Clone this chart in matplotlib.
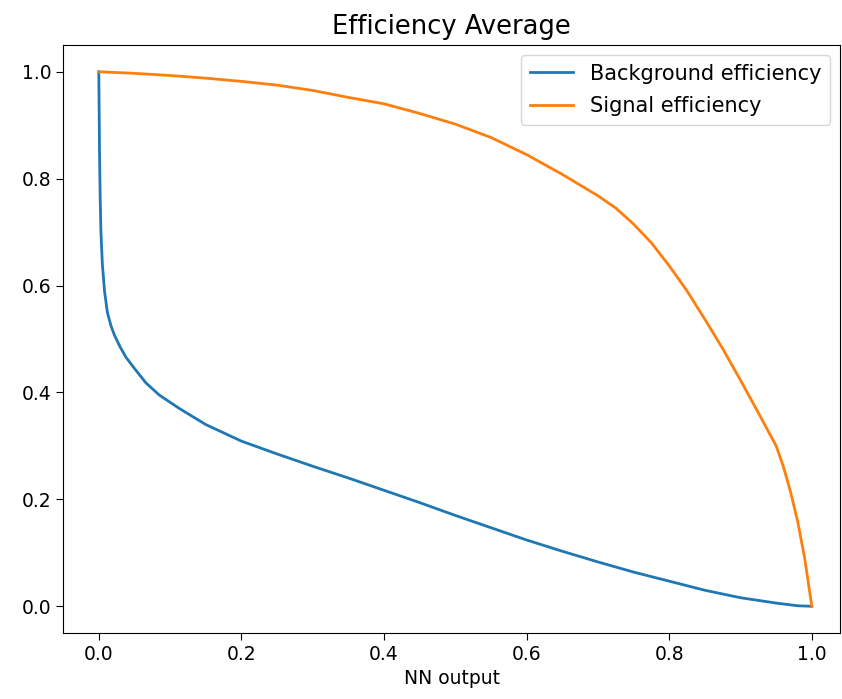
import matplotlib
matplotlib.use("Agg")
import matplotlib.pyplot as plt

# NN output cut values and resulting efficiencies
bkg_cut = [0.0, 0.001, 0.002, 0.003, 0.005, 0.008, 0.012, 0.017, 0.022, 0.03, 0.038,
           0.05, 0.066, 0.085, 0.113, 0.15, 0.2, 0.25, 0.3, 0.35, 0.4, 0.45, 0.5, 0.55,
           0.6, 0.65, 0.7, 0.75, 0.8, 0.85, 0.9, 0.95, 0.98, 1.0]
bkg_eff = [1.0, 0.85, 0.76, 0.70, 0.64, 0.59, 0.55, 0.525, 0.507, 0.485, 0.466,
           0.445, 0.418, 0.395, 0.37, 0.34, 0.309, 0.285, 0.262, 0.24, 0.217, 0.194, 0.17, 0.147,
           0.124, 0.103, 0.083, 0.064, 0.047, 0.03, 0.016, 0.006, 0.001, 0.0]

sig_cut = [0.0, 0.05, 0.1, 0.15, 0.2, 0.25, 0.3, 0.35, 0.4, 0.45, 0.5, 0.55,
           0.6, 0.65, 0.675, 0.7, 0.725, 0.75, 0.775, 0.8, 0.825, 0.85, 0.875,
           0.9, 0.925, 0.95, 0.96, 0.97, 0.98, 0.99, 1.0]
sig_eff = [1.0, 0.997, 0.993, 0.988, 0.982, 0.975, 0.965, 0.952, 0.94, 0.922, 0.902, 0.877,
           0.845, 0.808, 0.788, 0.768, 0.745, 0.715, 0.68, 0.637, 0.59, 0.537, 0.482,
           0.423, 0.362, 0.3, 0.262, 0.215, 0.16, 0.09, 0.0]

fig = plt.figure(figsize=(8.42, 6.99), dpi=100)
ax = fig.add_axes([0.075, 0.0944, 0.923, 0.8412])

ax.plot(bkg_cut, bkg_eff, color="#1f77b4", linewidth=2, label="Background efficiency")
ax.plot(sig_cut, sig_eff, color="#ff7f0e", linewidth=2, label="Signal efficiency")

ax.set_xlim(-0.05, 1.04)
ax.set_ylim(-0.05, 1.05)
ax.set_xticks([0.0, 0.2, 0.4, 0.6, 0.8, 1.0])
ax.set_yticks([0.0, 0.2, 0.4, 0.6, 0.8, 1.0])
ax.tick_params(labelsize=13.5, length=5)
ax.set_xlabel("NN output", fontsize=13.5, labelpad=4)
ax.set_title("Efficiency Average", fontsize=18.5, pad=8)
ax.legend(loc="upper right", fontsize=15, labelspacing=0.6, handlelength=2.1)

fig.savefig("out.png", dpi=100)
